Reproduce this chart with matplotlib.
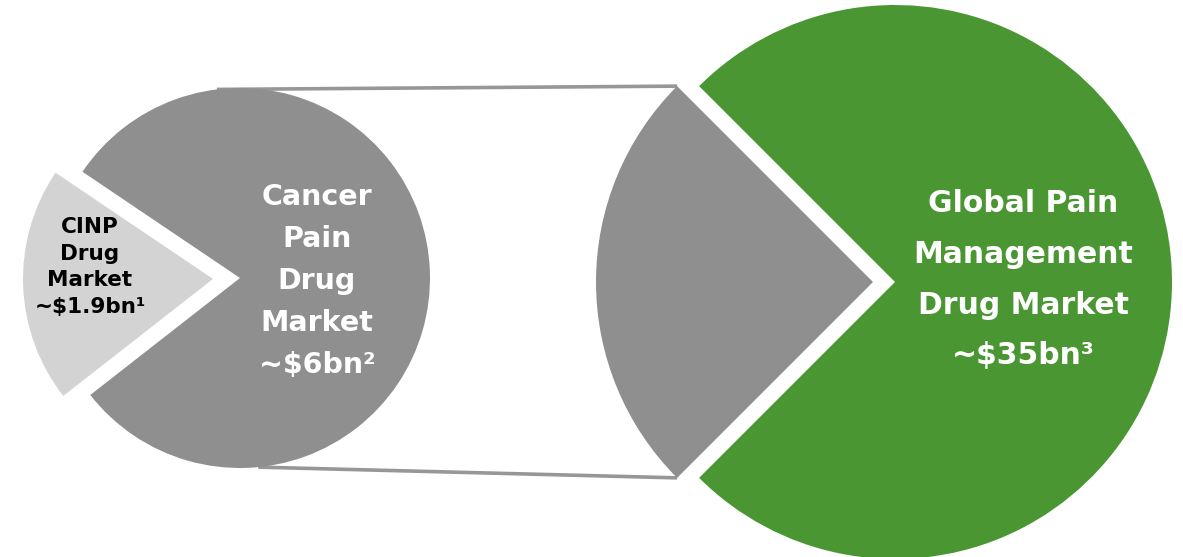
import numpy as np
import matplotlib
matplotlib.use("Agg")
import matplotlib.pyplot as plt

# ---- data (slice shares) ----
left_labels = ["CINP", "Other cancer pain"]
left_shares = [20, 80]
right_labels = ["Cancer pain", "Other pain"]
right_shares = [25, 75]
cinp_text = ["CINP", "Drug", "Market", "~\\$1.9bn\u00b9"]
cancer_text = ["Cancer", "Pain", "Drug", "Market", "~\\$6bn\u00b2"]
global_text = ["Global Pain", "Management", "Drug Market", "~\\$35bn\u00b3"]

# ---- style ----
GRAY = "#8f8f8f"
LIGHT = "#d3d3d3"
GREEN = "#4a9632"
LINE = "#979797"
FONT = ["DejaVu Sans"]

W, H = 1183, 557
fig = plt.figure(figsize=(W / 100, H / 100), dpi=100)
ax = fig.add_axes([0, 0, 1, 1])

left_c = (240, H - 278)
left_r = 190
right_c = (895, H - 282)
right_r = 277

lw, _ = ax.pie(left_shares, colors=[LIGHT, GRAY], startangle=146,
               counterclock=True, explode=[27, 0],
               center=left_c, radius=left_r,
               wedgeprops=dict(linewidth=0), frame=True)
rw, _ = ax.pie(right_shares, colors=[GRAY, GREEN], startangle=135,
               counterclock=True, explode=[22, 0],
               center=right_c, radius=right_r,
               wedgeprops=dict(linewidth=0), frame=True)

for w in list(lw) + list(rw):
    w.set_zorder(3)


def pt(center, r, ang):
    a = np.deg2rad(ang)
    return center[0] + r * np.cos(a), center[1] + r * np.sin(a)


g = rw[0]
top_right = pt(g.center, g.r, g.theta1)
bot_right = pt(g.center, g.r, g.theta2)
top_left = pt(left_c, left_r, 97)
bot_left = pt(left_c, left_r, -84.5)
ax.plot([top_left[0], top_right[0]], [top_left[1], top_right[1]],
        color=LINE, lw=2.6, zorder=2, solid_capstyle="butt")
ax.plot([bot_left[0], bot_right[0]], [bot_left[1], bot_right[1]],
        color=LINE, lw=2.6, zorder=2, solid_capstyle="butt")


def block(lines, x, y0, dy, size, color):
    for i, s in enumerate(lines):
        ax.text(x, H - (y0 + i * dy), s, ha="center", va="center",
                fontsize=size, fontweight="bold", color=color,
                family=FONT, zorder=5)


block(cinp_text, 90, 227, 26.7, 15.5, "black")
block(cancer_text, 317, 197, 42, 20.5, "white")
block(global_text, 1023, 204, 50.5, 21.5, "white")

ax.set_xlim(0, W)
ax.set_ylim(0, H)
ax.set_aspect("equal")
ax.axis("off")
fig.savefig("out.png", dpi=100)
